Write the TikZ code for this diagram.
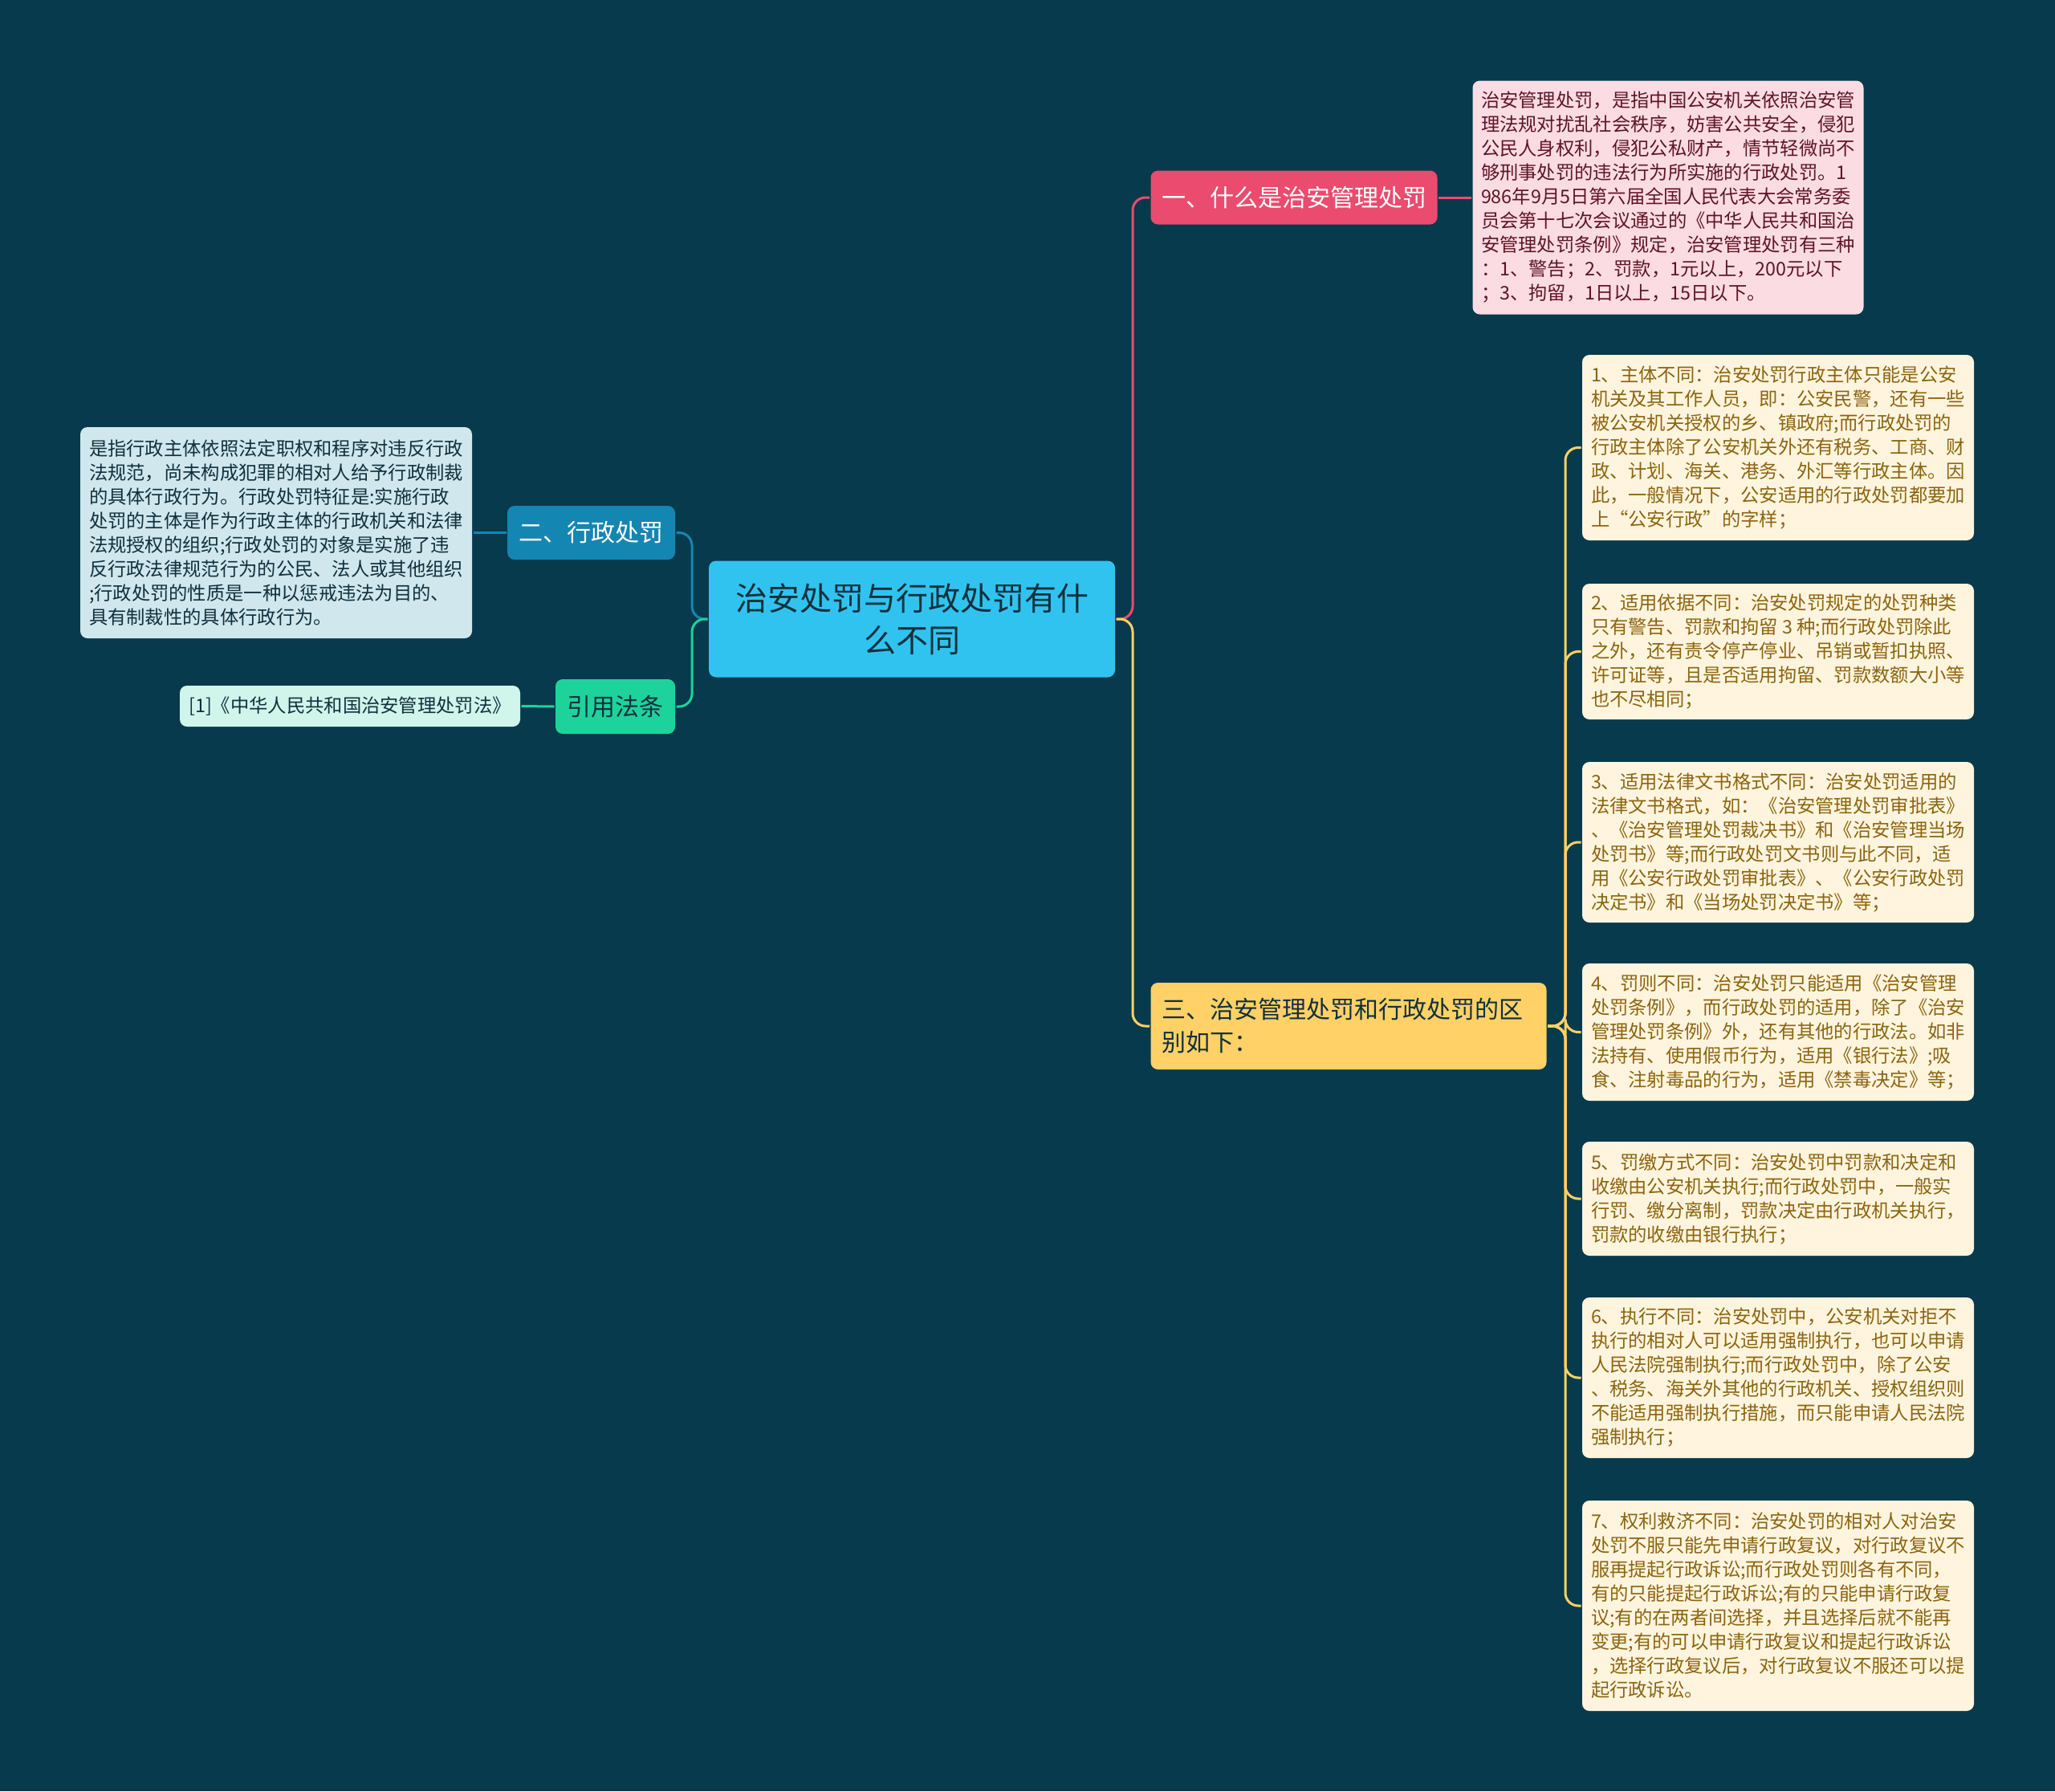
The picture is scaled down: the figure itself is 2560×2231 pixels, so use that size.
\documentclass[tikz,border=0pt]{standalone}
\usepackage{fontspec}
\setmainfont{Noto Sans CJK SC}
\definecolor{bg}{HTML}{073A4C}
\definecolor{rootfill}{HTML}{31C3F0}
\definecolor{redc}{HTML}{EA4B6E}
\definecolor{pinkfill}{HTML}{FCDCE3}
\definecolor{pinktext}{HTML}{5E1526}
\definecolor{yelc}{HTML}{FFD166}
\definecolor{creamfill}{HTML}{FFF5DE}
\definecolor{goldtext}{HTML}{8C6410}
\definecolor{bluec}{HTML}{1486B2}
\definecolor{bluefill}{HTML}{D0E7EE}
\definecolor{greenc}{HTML}{1DD39B}
\definecolor{mintfill}{HTML}{D0F5EB}
\definecolor{darktext}{HTML}{10303C}

\begin{document}
\begin{tikzpicture}[x=1pt,y=-1pt,line width=3pt]
  \tikzstyle{box}=[rectangle,rounded corners=9pt,inner sep=0pt]
  \tikzstyle{small}=[font=\fontsize{23.3}{30}\selectfont,align=left]
  \tikzstyle{topic}=[box,font=\fontsize{30}{41}\selectfont,align=left]
  \tikzstyle{leaf}=[box,small,fill=creamfill,text=goldtext,minimum width=488pt]
  \tikzstyle{wire}=[rounded corners=16pt]

  \useasboundingbox[fill=bg] (0,0) rectangle (2560,2231);

  % centre
  \node[box,fill=rootfill,text=darktext,minimum width=506pt,minimum height=145pt,
        font=\fontsize{40}{52}\selectfont,align=center] (R) at (1136,771)
        {治安处罚与行政处罚有什\\么不同};

  % right, red
  \node[topic,fill=redc,text=white,minimum width=357pt,minimum height=67pt] (T1) at (1612,246)
        {一、什么是治安管理处罚};
  \node[box,small,fill=pinkfill,text=pinktext,minimum width=487pt,minimum height=291pt] (D1) at (2078,246)
        {治安管理处罚，是指中国公安机关依照治安管\\
         理法规对扰乱社会秩序，妨害公共安全，侵犯\\
         公民人身权利，侵犯公私财产，情节轻微尚不\\
         够刑事处罚的违法行为所实施的行政处罚。1\\
         986年9月5日第六届全国人民代表大会常务委\\
         员会第十七次会议通过的《中华人民共和国治\\
         安管理处罚条例》规定，治安管理处罚有三种\\
         ：1、警告；2、罚款，1元以上，200元以下\\
         ；3、拘留，1日以上，15日以下。};

  % right, yellow
  \node[topic,fill=yelc,text=darktext,minimum width=493pt,minimum height=108pt,
        text width=465pt] (T3) at (1680,1278)
        {三、治安管理处罚和行政处罚的区\\别如下：};

  \node[leaf,minimum height=231pt] (Y1) at (2215,557.5)
        {1、主体不同：治安处罚行政主体只能是公安\\
         机关及其工作人员，即：公安民警，还有一些\\
         被公安机关授权的乡、镇政府;而行政处罚的\\
         行政主体除了公安机关外还有税务、工商、财\\
         政、计划、海关、港务、外汇等行政主体。因\\
         此，一般情况下，公安适用的行政处罚都要加\\
         上“公安行政”的字样；};
  \node[leaf,minimum height=169pt] (Y2) at (2215,811.5)
        {2、适用依据不同：治安处罚规定的处罚种类\\
         只有警告、罚款和拘留 3 种;而行政处罚除此\\
         之外，还有责令停产停业、吊销或暂扣执照、\\
         许可证等，且是否适用拘留、罚款数额大小等\\
         也不尽相同；};
  \node[leaf,minimum height=200pt] (Y3) at (2215,1049)
        {3、适用法律文书格式不同：治安处罚适用的\\
         法律文书格式，如：《治安管理处罚审批表》\\
         、《治安管理处罚裁决书》和《治安管理当场\\
         处罚书》等;而行政处罚文书则与此不同，适\\
         用《公安行政处罚审批表》、《公安行政处罚\\
         决定书》和《当场处罚决定书》等；};
  \node[leaf,minimum height=171pt] (Y4) at (2215,1285.5)
        {4、罚则不同：治安处罚只能适用《治安管理\\
         处罚条例》，而行政处罚的适用，除了《治安\\
         管理处罚条例》外，还有其他的行政法。如非\\
         法持有、使用假币行为，适用《银行法》;吸\\
         食、注射毒品的行为，适用《禁毒决定》等；};
  \node[leaf,minimum height=142pt] (Y5) at (2215,1493)
        {5、罚缴方式不同：治安处罚中罚款和决定和\\
         收缴由公安机关执行;而行政处罚中，一般实\\
         行罚、缴分离制，罚款决定由行政机关执行，\\
         罚款的收缴由银行执行；};
  \node[leaf,minimum height=200pt] (Y6) at (2215,1716)
        {6、执行不同：治安处罚中，公安机关对拒不\\
         执行的相对人可以适用强制执行，也可以申请\\
         人民法院强制执行;而行政处罚中，除了公安\\
         、税务、海关外其他的行政机关、授权组织则\\
         不能适用强制执行措施，而只能申请人民法院\\
         强制执行；};
  \node[leaf,minimum height=262pt] (Y7) at (2215,2000)
        {7、权利救济不同：治安处罚的相对人对治安\\
         处罚不服只能先申请行政复议，对行政复议不\\
         服再提起行政诉讼;而行政处罚则各有不同，\\
         有的只能提起行政诉讼;有的只能申请行政复\\
         议;有的在两者间选择，并且选择后就不能再\\
         变更;有的可以申请行政复议和提起行政诉讼\\
         ，选择行政复议后，对行政复议不服还可以提\\
         起行政诉讼。};

  % left, blue and green
  \node[topic,fill=bluec,text=white,minimum width=209pt,minimum height=67pt] (T2) at (736.5,663.5)
        {二、行政处罚};
  \node[box,small,fill=bluefill,text=darktext,minimum width=488pt,minimum height=263pt] (D2) at (344,663.5)
        {是指行政主体依照法定职权和程序对违反行政\\
         法规范，尚未构成犯罪的相对人给予行政制裁\\
         的具体行政行为。行政处罚特征是:实施行政\\
         处罚的主体是作为行政主体的行政机关和法律\\
         法规授权的组织;行政处罚的对象是实施了违\\
         反行政法律规范行为的公民、法人或其他组织\\
         ;行政处罚的性质是一种以惩戒违法为目的、\\
         具有制裁性的具体行政行为。};
  \node[topic,fill=greenc,text=darktext,minimum width=149pt,minimum height=68pt] (T4) at (766.5,880)
        {引用法条};
  \node[box,small,fill=mintfill,text=darktext,minimum width=424pt,minimum height=51pt] (D4) at (436,879.5)
        {[1]《中华人民共和国治安管理处罚法》};

  \coordinate (rj) at (1411,771);
  \coordinate (lj) at (862,771);
  \coordinate (yj) at (1950,1278);

  \draw[wire,redc] (R.east) -- (rj) |- (T1.west);
  \draw[redc] (T1.east) -- (D1.west);
  \draw[wire,yelc] (R.east) -- (rj) |- (T3.west);
  \foreach \k in {1,...,7}
    \draw[wire,yelc] (T3.east) -- (yj) |- (Y\k.west);
  \draw[wire,bluec] (R.west) -- (lj) |- (T2.east);
  \draw[bluec] (T2.west) -- (D2.east);
  \draw[wire,greenc] (R.west) -- (lj) |- (T4.east);
  \draw[greenc] (T4.west) -- (D4.east);
\end{tikzpicture}
\end{document}
